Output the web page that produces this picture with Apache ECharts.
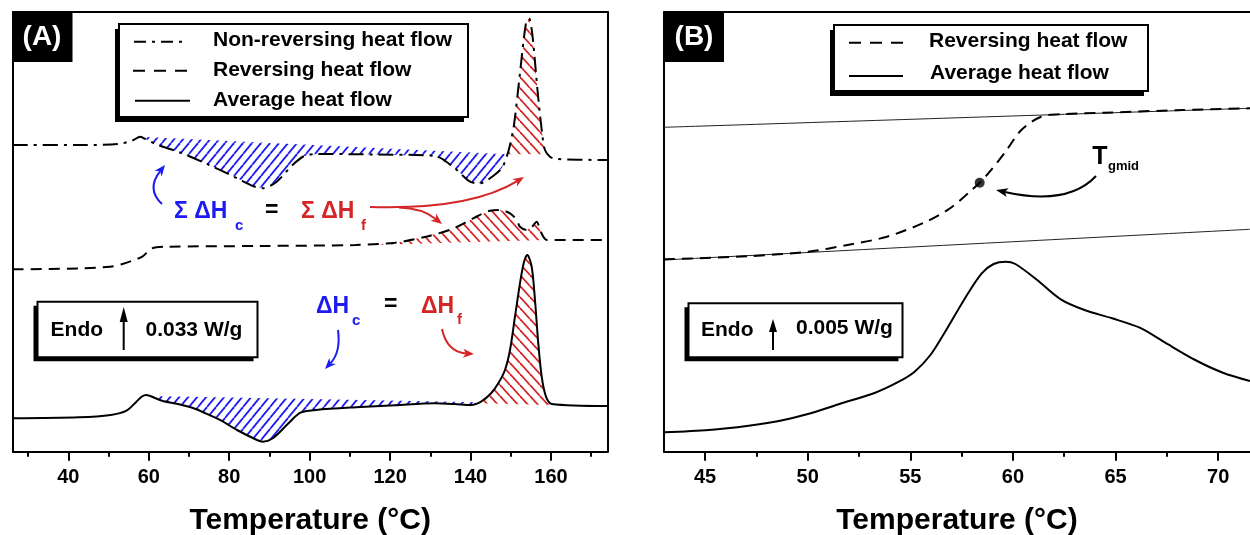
<!DOCTYPE html>
<html>
<head>
<meta charset="utf-8">
<script src="https://cdn.jsdelivr.net/npm/echarts@6/dist/echarts.min.js"></script>
<style>
html,body{margin:0;padding:0;background:#fff;}
#chart{width:1250px;height:535px;}
</style>
</head>
<body>
<div id="chart"></div>
<script>
// ---------- DATA (temperature °C, heat flow in arbitrary units) ----------
const majorTicksA = [40, 60, 80, 100, 120, 140, 160];
const minorTicksA = [30, 50, 70, 90, 110, 130, 150, 170];
const majorTicksB = [45, 50, 55, 60, 65, 70];
const minorTicksB = [47.5, 52.5, 57.5, 62.5, 67.5];

const nonReversingA = [[26.2,306.7],[42.66,306.7],[52.5,307.7],[55.94,311.2],[57.9,315],[58.89,313.2],[62.32,306.7],[67.25,300],[74.11,288.4],[81.99,273.4],[85.92,265.7],[88.35,263.4],[91.81,270],[95.74,286.7],[98.67,295.7],[101.63,297.7],[116.37,297.2],[131.11,295.7],[136.01,283.7],[139.86,270],[142.35,268.4],[144.84,273.4],[147.74,283.4],[148.99,295],[149.81,306.7],[150.8,326.7],[152.24,376.7],[153.71,426.7],[154.51,433.4],[155.38,416.7],[156.64,361.7],[157.84,316.7],[158.51,301.7],[159.75,295],[161.24,292.7],[174.05,291.7]];
const reversingA = [[26.2,182.4],[42.66,183.2],[50.36,185],[53.47,187.7],[56.33,191.7],[58.4,195],[60.81,203.4],[64.29,205],[87.66,205.7],[111.45,206.7],[121.22,209],[129.17,215.2],[136.01,223.7],[140.68,233.4],[144.84,241],[147.32,241.7],[149.81,238.4],[151.47,231.7],[152.29,225],[153.96,221.7],[155.2,224.4],[156.45,230],[157.27,221.7],[158.09,215],[158.93,211.7],[174.05,211.7]];
const averageA = [[26.15,33.4],[42.66,34.4],[50.54,36.7],[54.47,41],[56.93,50],[58.32,55.2],[59.37,56.7],[60.36,55.7],[63.29,51],[67.25,47.7],[71.17,43.4],[74.11,38.4],[78.04,31],[81.94,21.7],[86.91,11.7],[88.35,10],[90.81,13.4],[94.74,28.4],[97.7,39],[101.63,41.7],[111.45,44.4],[121.29,46.4],[131.11,48.4],[136.01,47.7],[140.14,46.7],[142.62,50],[145.11,58.4],[146.9,68.4],[148.56,81.7],[149.81,101.7],[151.05,135],[152.29,168.4],[153.29,189.7],[154.11,196.7],[155.2,185],[156.02,151.7],[156.84,108.4],[157.69,75],[158.76,55],[160.17,47.7],[174.05,45.7]];

// integration baselines (start, end) of hatched enthalpy areas
const nrCrystBase = [[57.9,315],[149.2,297.5]];
const nrMeltBase = [[149.2,297.5],[159.2,297.5]];
const revMeltBase = [[115.4,206.8],[158.93,211.7]];
const avgCrystBase = [[60.36,55.7],[142.6,49.5]];
const avgMeltBase = [[142.6,48.5],[159.5,46.7]];

const reversingB = [[43,192.4],[47.12,195.5],[50.01,200],[51.94,206.7],[53.86,215],[55.78,230],[56.94,243.4],[57.9,260],[58.38,269],[58.87,280],[59.64,300],[60.41,321.7],[61.37,335],[62.53,337.7],[64.45,339],[68.3,341.7],[71.55,343.4]];
const averageB = [[43,19.4],[45.19,21.7],[47.12,26],[48.66,31],[50.01,37.7],[51.55,47.7],[53.29,59],[54.44,70],[55.21,80],[55.98,96.7],[56.75,121.7],[57.71,155],[58.48,178.4],[59.06,187.7],[59.64,190],[60.12,187.7],[61.18,171.7],[62.33,152.4],[63.49,141.7],[64.83,133.4],[66.18,124],[67.34,110],[68.88,91.7],[70.23,79],[71.55,70.7]];
const tangentUpperB = [[43,324.4],[71.55,343.4]];
const tangentLowerB = [[43,191.7],[71.55,222.4]];
const tgmidB = [[58.38,269]];

// ---------- STYLE ----------
const FONT = "'Liberation Sans', Arial, Helvetica, sans-serif";
const BLUE = '#1c1cf0';
const RED = '#d42626';

function hatchPattern(color, w, h, dir, lw) {
  const c = document.createElement('canvas');
  c.width = w; c.height = h;
  const g = c.getContext('2d');
  g.strokeStyle = color; g.lineWidth = lw;
  for (const off of [-w, 0, w]) {
    g.beginPath();
    if (dir === '/') { g.moveTo(off, h); g.lineTo(off + w, 0); }
    else { g.moveTo(off, 0); g.lineTo(off + w, h); }
    g.stroke();
  }
  return c;
}
const bluePat = hatchPattern(BLUE, 9, 11, '/', 1.8);
const redPat = hatchPattern(RED, 10, 11, '\\', 1.8);

function hatchSeries(curve, base, pattern) {
  return {
    type: 'custom', xAxisIndex: 0, yAxisIndex: 0, z: 1, silent: true, clip: true,
    data: [base[0]],
    renderItem: function (params, api) {
      const pts = [api.coord(base[0])];
      curve.forEach(function (p) {
        if (p[0] > base[0][0] && p[0] < base[1][0]) pts.push(api.coord(p));
      });
      pts.push(api.coord(base[1]));
      return { type: 'polygon', shape: { points: pts }, style: { fill: { image: pattern, repeat: 'repeat' }, stroke: null } };
    }
  };
}

function lineSeries(name, data, xi, yi, type, width, color, z) {
  return {
    name: name, type: 'line', data: data, xAxisIndex: xi, yAxisIndex: yi,
    showSymbol: false, symbol: 'none', smooth: 0.3, z: z || 3, silent: true,
    lineStyle: { color: color || '#000', width: width || 2, type: type || 'solid' }
  };
}

function bottomAxis(grid, min, max, major) {
  return {
    type: 'value', gridIndex: grid, min: min, max: max, position: 'bottom',
    axisLine: { show: true, onZero: false, lineStyle: { color: '#000', width: 2 } },
    axisTick: { show: true, length: 9, inside: false, customValues: major, lineStyle: { color: '#000', width: 2 } },
    axisLabel: { show: true, customValues: major, margin: 16, color: '#000', fontSize: 20, fontWeight: 'bold', fontFamily: FONT },
    splitLine: { show: false },
    name: 'Temperature (°C)', nameLocation: 'middle', nameGap: 54,
    nameTextStyle: { color: '#000', fontSize: 30, fontWeight: 'bold', fontFamily: FONT }
  };
}
function minorAxis(grid, min, max, minor) {
  return {
    type: 'value', gridIndex: grid, min: min, max: max, position: 'bottom',
    axisLine: { show: false, onZero: false },
    axisTick: { show: true, length: 5, inside: false, customValues: minor, lineStyle: { color: '#000', width: 2 } },
    axisLabel: { show: false }, splitLine: { show: false }
  };
}
function topAxis(grid, min, max) {
  return {
    type: 'value', gridIndex: grid, min: min, max: max, position: 'top',
    axisLine: { show: true, onZero: false, lineStyle: { color: '#000', width: 2 } },
    axisTick: { show: false }, axisLabel: { show: false }, splitLine: { show: false }
  };
}
function yAx(grid, pos) {
  return {
    type: 'value', gridIndex: grid, min: 0, max: 439.7, position: pos,
    axisLine: { show: true, onZero: false, lineStyle: { color: '#000', width: 2 } },
    axisTick: { show: false }, axisLabel: { show: false }, splitLine: { show: false }
  };
}

// ---------- ANNOTATION HELPERS ----------
function txt(x, y, text, size, color, align, weight) {
  return { type: 'text', x: x, y: y, z: 20, silent: true,
    style: { text: text, fill: color || '#000', fontSize: size, fontWeight: weight || 'bold', fontFamily: FONT,
      align: align || 'left', verticalAlign: 'middle' } };
}
function seg(x1, y1, x2, y2, dash, width, color) {
  return { type: 'line', z: 20, silent: true, shape: { x1: x1, y1: y1, x2: x2, y2: y2 },
    style: { stroke: color || '#000', lineWidth: width || 2, lineDash: dash || null } };
}
function shadowBox(x, y, w, h, dx, dy) {
  return [
    { type: 'rect', z: 18, silent: true, shape: { x: x + dx, y: y + dy, width: w, height: h }, style: { fill: '#000' } },
    { type: 'rect', z: 19, silent: true, shape: { x: x, y: y, width: w, height: h }, style: { fill: '#fff', stroke: '#000', lineWidth: 2 } }
  ];
}
function curvedArrow(sx, sy, cx, cy, tx, ty, color, headLen, headW) {
  headLen = headLen || 11; headW = headW || 9;
  const dx = tx - cx, dy = ty - cy, L = Math.hypot(dx, dy);
  const ux = dx / L, uy = dy / L, px = -uy, py = ux;
  const bx = tx - ux * headLen, by = ty - uy * headLen;
  return [
    { type: 'bezierCurve', z: 20, silent: true, shape: { x1: sx, y1: sy, cpx1: cx, cpy1: cy, x2: bx + ux * 3, y2: by + uy * 3 },
      style: { stroke: color, lineWidth: 2, fill: null } },
    { type: 'polygon', z: 20, silent: true,
      shape: { points: [[tx, ty], [bx + px * headW / 2, by + py * headW / 2], [bx + ux * 3, by + uy * 3], [bx - px * headW / 2, by - py * headW / 2]] },
      style: { fill: color } }
  ];
}
function upArrow(x, yTail, yTip, headLen, headW) {
  return [
    seg(x, yTail, x, yTip + headLen - 1, null, 2),
    { type: 'polygon', z: 20, silent: true,
      shape: { points: [[x, yTip], [x - headW / 2, yTip + headLen], [x + headW / 2, yTip + headLen]] }, style: { fill: '#000' } }
  ];
}

const graphics = [].concat(
  // panel labels
  [{ type: 'rect', z: 18, silent: true, shape: { x: 12.5, y: 12, width: 60, height: 50 }, style: { fill: '#000' } },
   txt(42, 37, '(A)', 28, '#fff', 'center'),
   { type: 'rect', z: 18, silent: true, shape: { x: 664, y: 12, width: 60, height: 50 }, style: { fill: '#000' } },
   txt(694, 37, '(B)', 28, '#fff', 'center')],
  // legend A
  shadowBox(119, 24, 349, 93, -4, 5),
  [seg(134, 41.7, 184, 41.7, [12, 6, 3, 6]), txt(213, 40, 'Non-reversing heat flow', 21),
   seg(133, 70.7, 188, 70.7, [12, 9]), txt(213, 70, 'Reversing heat flow', 21),
   seg(135, 100.7, 190, 100.7), txt(213, 100, 'Average heat flow', 21)],
  // legend B
  shadowBox(834, 25, 314, 66, -4, 5),
  [seg(849, 42.7, 903, 42.7, [12, 9]), txt(929, 41, 'Reversing heat flow', 21),
   seg(849, 76, 903, 76), txt(930, 73, 'Average heat flow', 21)],
  // Endo boxes
  shadowBox(37.5, 301.7, 220, 55.6, -4, 4),
  [txt(50.6, 330, 'Endo', 21), txt(145.5, 330, '0.033 W/g', 21)],
  upArrow(123.7, 350, 307, 15, 8),
  shadowBox(688.5, 303.3, 214, 54, -4, 4),
  [txt(701, 330, 'Endo', 21), txt(796, 328, '0.005 W/g', 21)],
  upArrow(773, 350, 319, 13, 8),
  // enthalpy annotations panel A (top)
  [txt(174, 212, 'Σ ΔH', 23, BLUE), txt(235, 226, 'c', 15, BLUE),
   txt(265, 211, '=', 23, '#000'),
   txt(301, 212, 'Σ ΔH', 23, RED), txt(361, 226, 'f', 15, RED)],
  curvedArrow(162, 204, 146, 189, 165, 165, BLUE),
  curvedArrow(370, 207, 470, 210, 524, 177, RED),
  curvedArrow(399, 207.5, 422, 208, 442, 224, RED),
  // enthalpy annotations panel A (bottom)
  [txt(316, 307, 'ΔH', 23, BLUE), txt(352, 321, 'c', 15, BLUE),
   txt(384, 305, '=', 23, '#000'),
   txt(421, 307, 'ΔH', 23, RED), txt(457, 320, 'f', 15, RED)],
  curvedArrow(338, 330, 341, 352, 325, 369, BLUE),
  curvedArrow(442, 329, 447, 352, 474, 354, RED),
  // Tgmid annotation panel B
  [txt(1100, 157, 'T', 25, '#000', 'center'), txt(1108, 166, 'gmid', 13, '#000')],
  curvedArrow(1096, 176, 1068, 206, 996, 190, '#000', 12, 9)
);

const option = {
  animation: false,
  backgroundColor: '#fff',
  textStyle: { fontFamily: FONT },
  grid: [
    { left: 12.8, right: 642.5, top: 12, bottom: 83.3, containLabel: false, outerBoundsMode: 'none' },
    { left: 664, right: 0, top: 12, bottom: 83.3, containLabel: false, outerBoundsMode: 'none' }
  ],
  xAxis: [
    bottomAxis(0, 26.2, 174.05, majorTicksA),
    minorAxis(0, 26.2, 174.05, minorTicksA),
    topAxis(0, 26.2, 174.05),
    bottomAxis(1, 43, 71.55, majorTicksB),
    minorAxis(1, 43, 71.55, minorTicksB),
    topAxis(1, 43, 71.55)
  ],
  yAxis: [yAx(0, 'left'), yAx(0, 'right'), yAx(1, 'left')],
  series: [
    hatchSeries(nonReversingA, nrCrystBase, bluePat),
    hatchSeries(nonReversingA, nrMeltBase, redPat),
    hatchSeries(reversingA, revMeltBase, redPat),
    hatchSeries(averageA, avgCrystBase, bluePat),
    hatchSeries(averageA, avgMeltBase, redPat),
    lineSeries('Non-reversing heat flow', nonReversingA, 0, 0, [15, 6, 3, 6], 2),
    lineSeries('Reversing heat flow', reversingA, 0, 0, [11, 7], 2),
    lineSeries('Average heat flow', averageA, 0, 0, 'solid', 2),
    lineSeries('Tangent upper', tangentUpperB, 3, 2, 'solid', 1, '#222', 2),
    lineSeries('Tangent lower', tangentLowerB, 3, 2, 'solid', 1, '#222', 2),
    lineSeries('Reversing heat flow (B)', reversingB, 3, 2, [11, 7], 2),
    lineSeries('Average heat flow (B)', averageB, 3, 2, 'solid', 2),
    { name: 'Tgmid', type: 'scatter', xAxisIndex: 3, yAxisIndex: 2, data: tgmidB, symbol: 'circle', symbolSize: 10,
      itemStyle: { color: '#000' }, z: 5, silent: true }
  ],
  graphic: graphics
};

const chart = echarts.init(document.getElementById('chart'), null, { renderer: 'canvas' });
chart.setOption(option);
</script>
</body>
</html>
